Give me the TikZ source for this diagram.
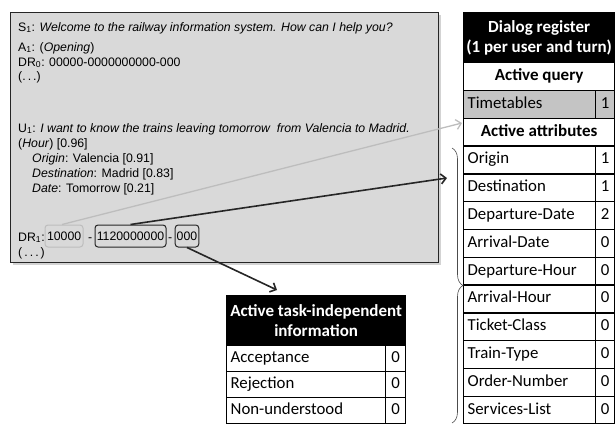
\documentclass[tikz,border=0pt]{standalone}
\usepackage{fontspec}
\setmainfont{Liberation Sans}
\newfontfamily\calib{Carlito}
\usetikzlibrary{arrows.meta,decorations.pathreplacing,shadows}
\definecolor{panelgray}{HTML}{D9D9D9}
\definecolor{rowgray}{HTML}{C4C4C4}
\definecolor{lightarrow}{HTML}{BDBDBD}
\definecolor{darkarrow}{HTML}{262626}
\begin{document}
\begin{tikzpicture}[x=1pt,y=-1pt,
  panel/.style={draw=black!85, line width=0.8pt, fill=panelgray, minimum width=428pt, minimum height=250pt, anchor=north west,
    drop shadow={shadow xshift=2.5pt, shadow yshift=-2.5pt, opacity=0.35}},
  txt/.style={font=\fontsize{12.3}{14}\selectfont, anchor=base west, inner sep=0pt},
  drbox/.style={rounded corners=3pt, line width=1pt, inner xsep=1.5pt, minimum height=22pt, font=\fontsize{12.3}{14}\selectfont},
  cell/.style={draw, line width=1.3pt, anchor=north west, inner xsep=4pt, inner ysep=0pt, font=\calib\fontsize{16.8}{19}\selectfont},
  rowtext/.style={text height=11.5pt, text depth=3.5pt},
  namecell/.style={cell, rowtext, text width=124pt, align=left, minimum height=27.8pt},
  valcell/.style={cell, rowtext, minimum width=19pt, minimum height=27.8pt, inner xsep=0pt},
  headcell/.style={cell, fill=black, text=white, inner xsep=0pt, font=\calib\bfseries\fontsize{17}{20}\selectfont, align=center},
  titlecell/.style={cell, rowtext, font=\calib\bfseries\fontsize{17}{19}\selectfont, minimum width=151pt, minimum height=27.8pt},
  bname/.style={cell, rowtext, text width=151pt, align=left, minimum height=26pt},
  bval/.style={cell, rowtext, minimum width=20pt, minimum height=26pt, inner xsep=0pt},
  arrowtip/.style={-{Straight Barb[length=5pt,width=10pt]}}
]
\useasboundingbox (0,0) rectangle (615,423);

% dialog panel
\node[panel] (panel) at (10,12) {};
\node[txt] (s1) at (18,31) {S\textsubscript{1}: \textit{Welcome to the railway information system. How can I help you?}};
\node[txt] (a1) at (18,51) {A\textsubscript{1}: (\textit{Opening})};
\node[txt] (dr0) at (18,66) {DR\textsubscript{0}: 00000-0000000000-000};
\node[txt] (dots0) at (18,80) {(.\,.\,.)};
\node[txt] (u1) at (18,132) {U\textsubscript{1}: \textit{I want to know the trains leaving tomorrow\ \ from Valencia to Madrid.}};
\node[txt] (hour) at (18,147) {(\textit{Hour}) [0.96]};
\node[txt] (orig) at (32,162) {\textit{Origin}: Valencia [0.91]};
\node[txt] (dest) at (32,177) {\textit{Destination}: Madrid [0.83]};
\node[txt] (date) at (32,192) {\textit{Date}: Tomorrow [0.21]};
\node[txt] (dr1) at (18,241) {DR\textsubscript{1}:};
\node[drbox, draw=lightarrow, minimum width=38pt, text width=34pt, align=left] (b1) at (64,236) {10000};
\node[txt] (m1) at (88,241) {-};
\node[drbox, draw=darkarrow, minimum width=71pt] (b2) at (130.5,236) {1120000000};
\node[txt] (m2) at (168,241) {-};
\node[drbox, draw=darkarrow, minimum width=22pt] (b3) at (187,236) {000};
\node[txt] (dots1) at (18,256) {(\,.\,.\,.\,)};

% dialog register table
\node[headcell, minimum width=151pt, minimum height=50pt] (h) at (463,12) {Dialog register\\(1 per user and turn)};
\node[titlecell] (aq) at (463,62) {Active query};
\node[namecell, fill=rowgray] (tt) at (463,89.8) {Timetables};
\node[valcell, fill=rowgray] (ttv) at (595,89.8) {1};
\node[titlecell] (aa) at (463,117.6) {Active attributes};
\foreach \n/\v [count=\i from 0] in {Origin/1,Destination/1,Departure-Date/2,Arrival-Date/0,Departure-Hour/0,Arrival-Hour/0,Ticket-Class/0,Train-Type/0,Order-Number/0,Services-List/0}{
  \node[namecell] (r\i) at (463,145.4+27.8*\i) {\n};
  \node[valcell] (v\i) at (595,145.4+27.8*\i) {\v};
}

% task-independent table
\node[headcell, minimum width=179pt, minimum height=50pt] (th) at (226,295) {Active task-independent\\information};
\node[bname] (acc) at (226,345) {Acceptance};
\node[bval] (accv) at (385,345) {0};
\node[bname] (rej) at (226,371) {Rejection};
\node[bval] (rejv) at (385,371) {0};
\node[bname] (non) at (226,397) {Non-understood};
\node[bval] (nonv) at (385,397) {0};

% brace
\coordinate (bt) at (452,148);
\coordinate (bb) at (452,423);
\draw[black!70, line width=0.6pt, decorate, decoration={brace, mirror, amplitude=11pt}] (bb) -- (bt);

% connectors
\coordinate (t1) at (462,123);
\coordinate (t2) at (447,178);
\draw[lightarrow, line width=1.3pt, arrowtip] ([xshift=-2pt]b1.north) -- (t1);
\draw[darkarrow, line width=1.6pt, arrowtip] (b2.north) -- (t2);
\draw[darkarrow, line width=1.6pt, arrowtip] (b3.south) -- (277,290);
\end{tikzpicture}
\end{document}
